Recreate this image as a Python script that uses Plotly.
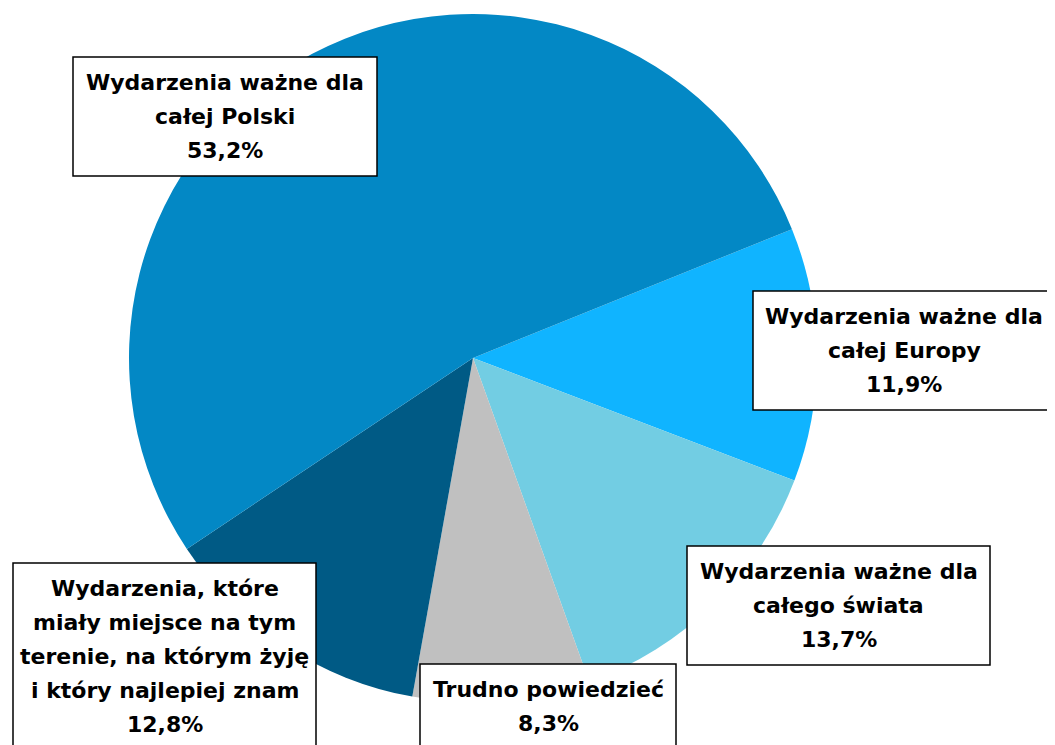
import plotly.graph_objects as go

# ---- data ----
categories = [
    "Wydarzenia ważne dla całej Europy",
    "Wydarzenia ważne dla całego świata",
    "Trudno powiedzieć",
    "Wydarzenia, które miały miejsce na tym terenie, na którym żyję i który najlepiej znam",
    "Wydarzenia ważne dla całej Polski",
]
values = [11.9, 13.7, 8.3, 12.8, 53.2]
label_lines = [
    ["Wydarzenia ważne dla", "całej Europy"],
    ["Wydarzenia ważne dla", "całego świata"],
    ["Trudno powiedzieć"],
    ["Wydarzenia, które", "miały miejsce na tym", "terenie, na którym żyję", "i który najlepiej znam"],
    ["Wydarzenia ważne dla", "całej Polski"],
]
colors = ["#10B4FF", "#72CDE3", "#C0C0C0", "#005A85", "#0388C5"]

# ---- layout helpers (pixel geometry of the 1055x745 page) ----
OFF = 8                      # default body margin of the html page
W, H = 1055 - OFF, 745 - OFF  # figure size so that it fits the window
cx, cy, r = 473, 358, 344
# label boxes: (left, top, right) in page px
boxes = [
    (753, 291, 1060),
    (687, 546, 990),
    (420, 664, 676),
    (13, 563, 316),
    (73, 57, 377),
]
LINE = 34
PAD = 8.5

def px(x):
    return (x - OFF) / W

def py(y):
    return 1 - (y - OFF) / H

fig = go.Figure(
    go.Pie(
        labels=categories,
        values=values,
        sort=False,
        direction="clockwise",
        rotation=68,
        marker=dict(colors=colors, line=dict(width=0)),
        textinfo="none",
        hoverinfo="label+percent",
        domain=dict(x=[px(cx - r), px(cx + r)], y=[py(cy + r), py(cy - r)]),
        showlegend=False,
    )
)

shapes = []
annotations = []
for lines, val, (x0, y0, x1) in zip(label_lines, values, boxes):
    all_lines = lines + [f"{val:.1f}".replace(".", ",") + "%"]
    n = len(all_lines)
    y1 = y0 + 2 * PAD + n * LINE
    shapes.append(dict(
        type="rect", xref="paper", yref="paper",
        x0=px(x0), x1=px(x1), y0=py(y1), y1=py(y0),
        line=dict(color="black", width=1.5), fillcolor="white", layer="above",
    ))
    xc = (x0 + min(x1, 1055)) / 2
    for i, t in enumerate(all_lines):
        yc = y0 + PAD + LINE * (i + 0.5)
        annotations.append(dict(
            xref="paper", yref="paper", x=px(xc), y=py(yc),
            xanchor="center", yanchor="middle", showarrow=False,
            text=t,
            font=dict(family="DejaVu Sans", size=22, color="black", weight="bold"),
        ))

fig.update_layout(
    width=W, height=H,
    margin=dict(l=0, r=0, t=0, b=0),
    paper_bgcolor="white",
    plot_bgcolor="white",
    shapes=shapes,
    annotations=annotations,
)

fig.write_html("out.html")
